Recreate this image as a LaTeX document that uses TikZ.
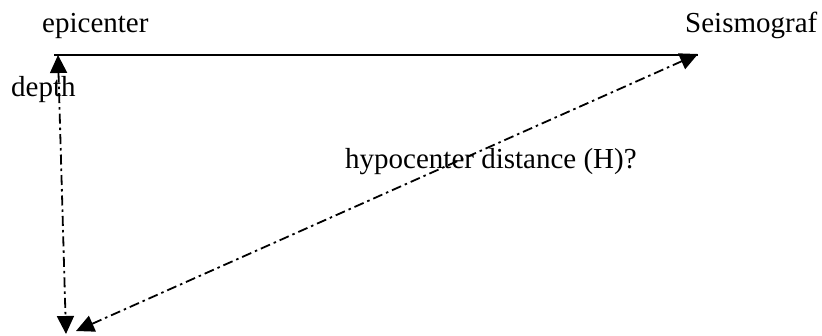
\documentclass[tikz,border=0pt]{standalone}
\usepackage{fontspec}
\setmainfont{Liberation Serif}
\usetikzlibrary{arrows.meta}
\begin{document}
\begin{tikzpicture}[x=1pt,y=-1pt,
  lbl/.style={font=\fontsize{29}{33}\selectfont, inner sep=0pt, anchor=base west},
  dd/.style={line width=1.8pt, dash pattern=on 10pt off 4pt on 2.5pt off 4pt,
    {Triangle[length=18pt,width=17pt]}-{Triangle[length=18pt,width=17pt]}}]
\useasboundingbox (0,0) rectangle (822,335);
\coordinate (epi) at (54,55);
\coordinate (seis) at (698,55);
\coordinate (vtop) at (58,55);
\coordinate (vbot) at (66,334);
\coordinate (dtop) at (698,54);
\coordinate (dbot) at (76,331);
\node[lbl] (tepi) at (42,32) {epicenter};
\node[lbl] (tseis) at (685,32) {Seismograf};
\node[lbl] (tdepth) at (11,96) {depth};
\node[lbl] (thyp) at (345,168) {hypocenter distance (H)?};
\draw[line width=1.8pt] (epi) -- (seis);
\draw[dd] (vtop) -- (vbot);
\draw[dd] (dtop) -- (dbot);
\end{tikzpicture}
\end{document}
